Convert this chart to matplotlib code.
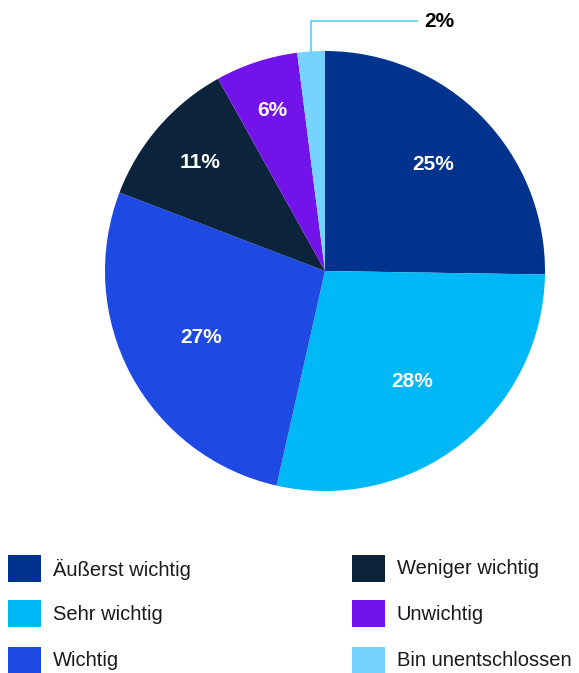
import numpy as np
import matplotlib
matplotlib.use("Agg")
from matplotlib import pyplot as plt
from matplotlib.patches import Rectangle

# survey answers and their shares in percent
categories = ["Äußerst wichtig", "Sehr wichtig", "Wichtig",
              "Weniger wichtig", "Unwichtig", "Bin unentschlossen"]
shares = [25, 28, 27, 11, 6, 2]
colors = ["#00338D", "#00B8F5", "#1E49E2", "#0C233C", "#7213EA", "#76D2FF"]

plt.rcParams['font.family'] = ['Liberation Sans', 'DejaVu Sans']

W, H = 579, 673
fig = plt.figure(figsize=(W / 100, H / 100), dpi=100)

# square axes holding the pie (radius 1 in data units)
cx, cy, r = 325, 271, 220
ax = fig.add_axes([(cx - r) / W, (H - cy - r) / H, 2 * r / W, 2 * r / H])
wedges, _ = ax.pie(shares, colors=colors, startangle=90, counterclock=False,
                   radius=1, wedgeprops=dict(linewidth=0))
ax.set_xlim(-1, 1)
ax.set_ylim(-1, 1)
ax.set_aspect('equal')
ax.axis('off')

# inner percentage labels, distance from centre per slice
label_dist = [0.69, 0.64, 0.64, 0.75, 0.77]
for w, v, d in zip(wedges[:5], shares[:5], label_dist):
    ang = np.deg2rad((w.theta1 + w.theta2) / 2)
    ax.text(d * np.cos(ang), d * np.sin(ang), f"{v}%", color="white",
            fontsize=15, fontweight="bold", ha="center", va="center")

# small slice gets a leader line and an outside label
w = wedges[5]
ang = np.deg2rad((w.theta1 + w.theta2) / 2)
x0, y0 = np.cos(ang), np.sin(ang)
ytop = 1.136
xend = 0.418
ax.plot([x0, x0, xend], [y0, ytop, ytop], color=colors[5], lw=1.5,
        clip_on=False, solid_joinstyle="miter")
ax.text(xend + 0.035, ytop, f"{shares[5]}%", color="black", fontsize=15,
        fontweight="bold", ha="left", va="center", clip_on=False)

# legend: two columns of colour squares
col_x = [8, 352]
row_y = [555, 600, 647]
for i, (name, c) in enumerate(zip(categories, colors)):
    x = col_x[i // 3]
    y = row_y[i % 3]
    fig.add_artist(Rectangle((x / W, 1 - (y + 27) / H), 33 / W, 27 / H,
                             transform=fig.transFigure, facecolor=c,
                             edgecolor="none"))
    fig.text((x + 45) / W, 1 - (y + 14) / H, name, fontsize=14.5,
             color="#1a1a1a", ha="left", va="center")

plt.savefig("out.png", dpi=100)
